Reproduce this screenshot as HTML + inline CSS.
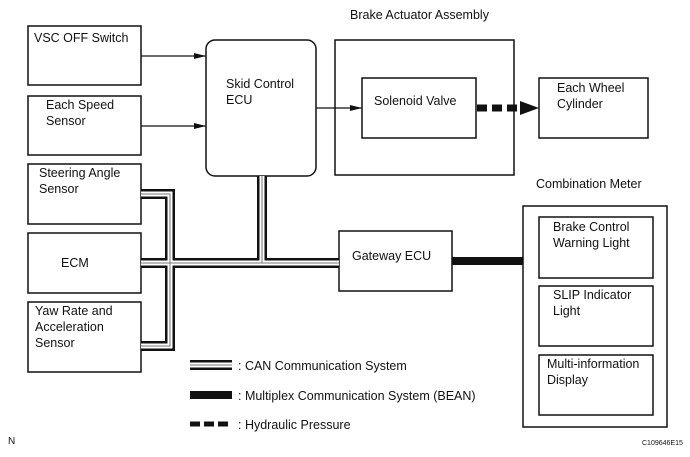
<!DOCTYPE html>
<html><head><style>
body{margin:0;background:#fff;}
svg{display:block;font-family:"Liberation Sans",Arial,sans-serif;}
text{font-size:12.5px;fill:#111;}
</style></head><body>
<svg width="690" height="457" viewBox="0 0 690 457">
<defs>
<marker id="ah" markerWidth="12" markerHeight="8" refX="12" refY="4" orient="auto" markerUnits="userSpaceOnUse"><path d="M0,1 L12,4 L0,7 Z" fill="#111"/></marker>
</defs>
<g fill="none" stroke="#111" stroke-width="1.5">
<rect x="28" y="26" width="113" height="59"/>
<rect x="28" y="96" width="113" height="59"/>
<rect x="28" y="164" width="113" height="60"/>
<rect x="28" y="233" width="113" height="60"/>
<rect x="28" y="302" width="113" height="70"/>
<rect x="206" y="40" width="110" height="136" rx="9"/>
<rect x="335" y="40" width="179" height="135"/>
<rect x="362" y="78" width="114" height="60"/>
<rect x="539" y="78" width="109" height="60"/>
<rect x="339" y="231" width="113" height="60"/>
<rect x="523" y="206" width="144" height="221"/>
<rect x="539" y="217" width="114" height="61"/>
<rect x="539" y="286" width="114" height="60"/>
<rect x="539" y="355" width="114" height="60"/>
</g>
<g stroke="#111" stroke-width="1.3" fill="none">
<line x1="141" y1="56" x2="206" y2="56" marker-end="url(#ah)"/>
<line x1="141" y1="126" x2="206" y2="126" marker-end="url(#ah)"/>
<line x1="316" y1="108" x2="362" y2="108" marker-end="url(#ah)"/>
</g>
<line x1="477" y1="108" x2="520" y2="108" stroke="#111" stroke-width="7" stroke-dasharray="10,5"/>
<path d="M520,101 L539,108 L520,115 Z" fill="#111"/>
<line x1="452" y1="261" x2="523" y2="261" stroke="#111" stroke-width="8"/>
<!-- CAN buses -->
<g fill="none" stroke-linejoin="miter">
<g stroke="#111" stroke-width="10">
<path d="M141,194 H170 V346 H141"/>
<path d="M141,263 H339"/>
<path d="M262,176 V263"/>
</g>
<g stroke="#fff" stroke-width="5">
<path d="M141,194 H170 V346 H141"/>
<path d="M141,263 H339"/>
<path d="M262,176 V263"/>
</g>
<g stroke="#777" stroke-width="1">
<path d="M141,194 H170 V346 H141"/>
<path d="M141,263 H339"/>
<path d="M262,176 V263"/>
</g>
</g>
<!-- legend -->
<line x1="190" y1="365" x2="232" y2="365" stroke="#111" stroke-width="10"/>
<line x1="190" y1="365" x2="232" y2="365" stroke="#fff" stroke-width="5"/>
<line x1="190" y1="365" x2="232" y2="365" stroke="#777" stroke-width="1"/>
<line x1="190" y1="395" x2="232" y2="395" stroke="#111" stroke-width="8"/>
<line x1="190" y1="424" x2="232" y2="424" stroke="#111" stroke-width="5" stroke-dasharray="10,4"/>
<text x="238" y="370">: CAN Communication System</text>
<text x="238" y="400">: Multiplex Communication System (BEAN)</text>
<text x="238" y="429">: Hydraulic Pressure</text>
<text x="34" y="42">VSC OFF Switch</text>
<text x="46" y="109">Each Speed</text>
<text x="46" y="125">Sensor</text>
<text x="39" y="177">Steering Angle</text>
<text x="39" y="193">Sensor</text>
<text x="61" y="267">ECM</text>
<text x="35" y="315">Yaw Rate and</text>
<text x="35" y="331">Acceleration</text>
<text x="35" y="347">Sensor</text>
<text x="226" y="88">Skid Control</text>
<text x="226" y="104">ECU</text>
<text x="350" y="19">Brake Actuator Assembly</text>
<text x="374" y="105">Solenoid Valve</text>
<text x="557" y="92">Each Wheel</text>
<text x="557" y="108">Cylinder</text>
<text x="352" y="260">Gateway ECU</text>
<text x="536" y="188">Combination Meter</text>
<text x="553" y="231">Brake Control</text>
<text x="553" y="247">Warning Light</text>
<text x="553" y="299">SLIP Indicator</text>
<text x="553" y="315">Light</text>
<text x="547" y="368">Multi-information</text>
<text x="547" y="384">Display</text>
<text x="8" y="444" style="font-size:10px">N</text>
<text x="642" y="445" style="font-size:7px">C109646E15</text>
</svg>
</body></html>
